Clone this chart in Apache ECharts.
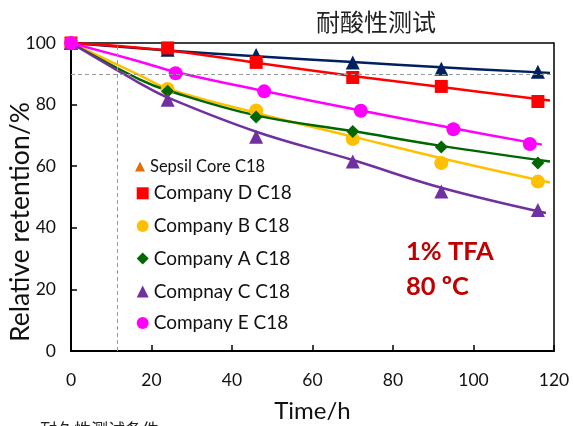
<!DOCTYPE html>
<html><head><meta charset="utf-8">
<script src="https://cdn.jsdelivr.net/npm/echarts@6/dist/echarts.min.js"></script>
<style>html,body{margin:0;padding:0;background:#fff}#c{width:573px;height:426px}</style>
</head><body><div id="c"></div>
<script>
const seriesNames = ['Sepsil Core C18','Company D C18','Company B C18','Company A C18','Compnay C C18','Company E C18'];
const xTicks = [0, 20, 40, 60, 80, 100, 120];
const yTicks = [0, 20, 40, 60, 80, 100];
// measured points [time h, relative retention %]
const sepsilPts = [[0,100],[24,97.8],[46,96.1],[70,93.7],[92,91.6],[116,90.7]];
const compDPts  = [[0,100],[24,98.4],[46,93.7],[70,88.8],[92,85.9],[116,81.0]];
const compBPts  = [[0,100],[24,85.1],[46,78.1],[70,68.8],[92,61.0],[116,55.0]];
const compAPts  = [[0,100],[24,84.3],[46,76.0],[70,71.3],[92,66.2],[116,61.0]];
const compCPts  = [[0,100],[24,81.6],[46,69.6],[70,61.5],[92,51.8],[116,45.8]];
const compEPts  = [[0,100],[26,90.2],[48,84.3],[72,78.0],[95,72.0],[114,67.2]];
// trend lines
const sepsilFit = [[0,100],[24,97.6],[46,95.7],[70,93.8],[92,92.1],[119,90.3]];
const compDFit  = [[0,100],[24,97.6],[46,93.6],[70,89.3],[92,85.7],[119,81.3]];
const compBFit  = [[0,100],[17,89.6],[24,85.2],[46,77.3],[70,69.6],[92,62.6],[119,54.7]];
const compAFit  = [[0,100],[17,88.2],[24,84.6],[46,76.5],[70,71.4],[92,66.6],[119,61.5]];
const compCFit  = [[0,100],[17,87.0],[24,82.3],[46,71.2],[70,62.0],[92,53.0],[118,44.8]];
const compEFit  = [[0,100],[17,94.0],[26,90.6],[48,84.4],[72,78.1],[95,72.3],[117,67.0]];
// 90 % retention guide
const refTime = [11.6];
const refRetention = [90];
const titleText = '耐酸性测试';
const noteLines = ['1% TFA', '80 ºC'];
const footText = '耐久性测试条件';

const colors = ['#002060','#FF0000','#FFC000','#006600','#7030A0','#FF00FF'];
const symbols = ['triangle','rect','circle','diamond','triangle','circle'];
const symSizes = [14,13,14,13,14,14];
const pts = [sepsilPts, compDPts, compBPts, compAPts, compCPts, compEPts];
const fits = [sepsilFit, compDFit, compBFit, compAFit, compCFit, compEFit];
const FONT = 'Lato';

const series = [];
fits.forEach((f, i) => {
  const s = {
    name: seriesNames[i] + ' fit', type: 'line', data: f, smooth: 0.4,
    showSymbol: false, symbol: 'none', z: 2,
    lineStyle: { color: colors[i], width: 2.5 }, itemStyle: { color: colors[i] },
    silent: true
  };
  if (i === 0) {
    s.markLine = {
      silent: true, symbol: 'none', label: { show: false },
      lineStyle: { type: [4, 3], color: '#9a9a9a', width: 1 },
      data: [{ xAxis: refTime[0] }, { yAxis: refRetention[0] }]
    };
  }
  series.push(s);
});
pts.forEach((p, i) => {
  series.push({
    name: seriesNames[i], type: 'scatter', data: p, z: 3,
    symbol: symbols[i], symbolSize: symSizes[i],
    itemStyle: { color: colors[i], opacity: 1 }
  });
});

// legend entries, one component each for exact placement
const legendCenters = [166.5, 193.3, 226, 258.5, 291.5, 323];
const legends = seriesNames.map((n, i) => {
  const small = i === 0;
  const lh = 20;
  return {
    left: small ? 135 : 136.7, top: legendCenters[i] - lh / 2, padding: 0,
    itemWidth: small ? 10 : 12, itemHeight: small ? 10 : 12,
    selectedMode: false,
    textStyle: { fontFamily: FONT, fontSize: small ? 16.5 : 19, color: '#111', lineHeight: lh },
    data: [ small
      ? { name: n, icon: 'triangle', itemStyle: { color: '#E46C0A' } }
      : { name: n, icon: symbols[i], itemStyle: { color: colors[i] } } ]
  };
});

const chart = echarts.init(document.getElementById('c'), null, { renderer: 'canvas' });
chart.setOption({
  animation: false,
  backgroundColor: '#fff',
  grid: { left: 71, right: 19, top: 43, bottom: 75, containLabel: false, outerBoundsMode: 'none',
          show: true, borderColor: '#000', borderWidth: 1.5, backgroundColor: 'transparent' },
  xAxis: {
    type: 'value', min: xTicks[0], max: xTicks[xTicks.length - 1], interval: xTicks[1] - xTicks[0],
    name: 'Time/h', nameLocation: 'middle', nameGap: 48, nameMoveOverlap: false,
    nameTextStyle: { fontFamily: FONT, fontSize: 24, color: '#111' },
    axisLine: { lineStyle: { color: '#000', width: 2 } },
    axisTick: { inside: true, length: 6, lineStyle: { color: '#000', width: 1.5 } },
    axisLabel: { fontFamily: FONT, fontSize: 17.5, color: '#111', margin: 20 },
    splitLine: { show: false }
  },
  yAxis: {
    type: 'value', min: yTicks[0], max: yTicks[yTicks.length - 1], interval: yTicks[1] - yTicks[0],
    name: 'Relative retention/%', nameLocation: 'middle', nameGap: 37, nameRotate: 90, nameMoveOverlap: false,
    nameTextStyle: { fontFamily: FONT, fontSize: 26.5, color: '#111', padding: [0, 50, 0, 0] },
    axisLine: { lineStyle: { color: '#000', width: 2 } },
    axisTick: { inside: true, length: 6, lineStyle: { color: '#000', width: 1.5 } },
    axisLabel: { fontFamily: FONT, fontSize: 17.5, color: '#111', margin: 15 },
    splitLine: { show: false }
  },
  legend: legends,
  graphic: [
    { type: 'text', x: 376, y: 22, style: { text: titleText, fontFamily: 'Noto Sans CJK SC', fontSize: 24, fill: '#222', align: 'center', verticalAlign: 'middle' } },
    { type: 'text', x: 406, y: 252, style: { text: noteLines[0], fontFamily: FONT, fontWeight: 'bold', fontSize: 25.5, fill: '#C00000', align: 'left', verticalAlign: 'middle' } },
    { type: 'text', x: 406, y: 287, style: { text: noteLines[1], fontFamily: FONT, fontWeight: 'bold', fontSize: 25.5, fill: '#C00000', align: 'left', verticalAlign: 'middle' } },
    { type: 'text', x: 40, y: 421, style: { text: footText, fontFamily: 'Noto Sans CJK SC', fontSize: 17, fill: '#222', align: 'left', verticalAlign: 'top' } }
  ],
  series: series
});
</script></body></html>
